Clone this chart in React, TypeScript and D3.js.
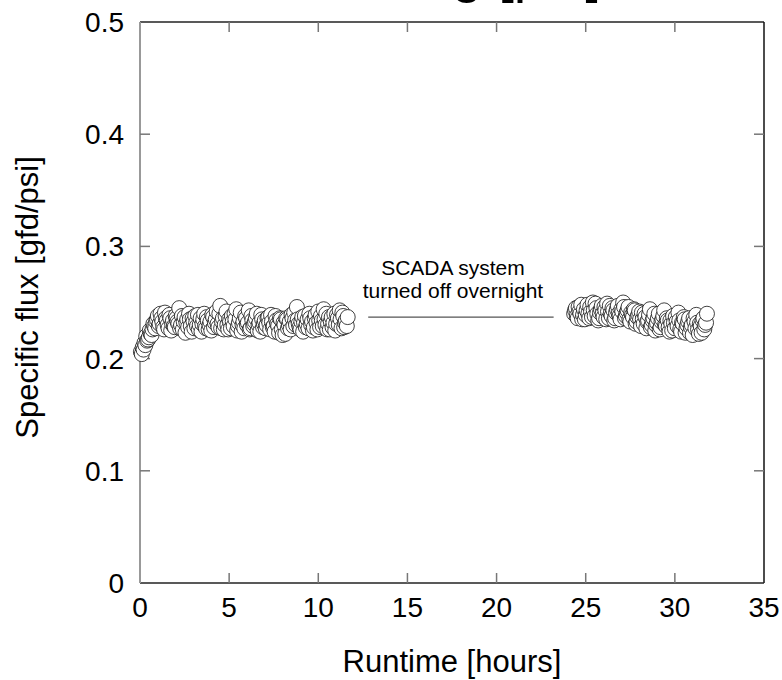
import React from "react";
import * as d3 from "d3";

const W = 782;
const H = 680;

const xTicks = [0, 5, 10, 15, 20, 25, 30, 35];
const yTicks = [0, 0.1, 0.2, 0.3, 0.4, 0.5];

const day1Time = [
  0.1, 0.2, 0.3, 0.4, 0.5, 0.6, 0.7, 0.8, 0.9, 1.0, 1.1, 1.2, 1.3, 1.4, 1.5, 1.6, 1.7, 1.8, 1.9, 2.0,
  2.1, 2.2, 2.3, 2.4, 2.5, 2.6, 2.7, 2.8, 2.9, 3.0, 3.1, 3.2, 3.3, 3.4, 3.5, 3.6, 3.7, 3.8, 3.9, 4.0,
  4.1, 4.2, 4.3, 4.4, 4.5, 4.6, 4.7, 4.8, 4.9, 5.0, 5.1, 5.2, 5.3, 5.4, 5.5, 5.6, 5.7, 5.8, 5.9, 6.0,
  6.1, 6.2, 6.3, 6.4, 6.5, 6.6, 6.7, 6.8, 6.9, 7.0, 7.1, 7.2, 7.3, 7.4, 7.5, 7.6, 7.7, 7.8, 7.9, 8.0,
  8.1, 8.2, 8.3, 8.4, 8.5, 8.6, 8.7, 8.8, 8.9, 9.0, 9.1, 9.2, 9.3, 9.4, 9.5, 9.6, 9.7, 9.8, 9.9, 10.0,
  10.1, 10.2, 10.3, 10.4, 10.5, 10.6, 10.7, 10.8, 10.9, 11.0, 11.1, 11.2, 11.3, 11.4, 11.5, 11.6,
];
const day1Flux = [
  0.204, 0.208, 0.212, 0.216, 0.219, 0.222, 0.226, 0.229, 0.233, 0.238, 0.231, 0.236, 0.228, 0.241, 0.234, 0.227, 0.236, 0.231, 0.229, 0.238,
  0.233, 0.245, 0.230, 0.226, 0.237, 0.232, 0.228, 0.235, 0.224, 0.233, 0.238, 0.229, 0.226, 0.236, 0.231, 0.240, 0.227, 0.234, 0.230, 0.225,
  0.237, 0.232, 0.242, 0.228, 0.247, 0.233, 0.226, 0.238, 0.230, 0.235, 0.227, 0.233, 0.240, 0.244, 0.229, 0.236, 0.224, 0.233, 0.238, 0.230,
  0.243, 0.227, 0.234, 0.231, 0.236, 0.225, 0.232, 0.239, 0.228, 0.234, 0.230, 0.237, 0.226, 0.233, 0.229, 0.238, 0.231, 0.223, 0.235, 0.221,
  0.230, 0.236, 0.227, 0.233, 0.239, 0.229, 0.234, 0.246, 0.231, 0.226, 0.237, 0.232, 0.228, 0.235, 0.240, 0.230, 0.225, 0.236, 0.232, 0.242,
  0.228, 0.234, 0.244, 0.230, 0.226, 0.237, 0.233, 0.228, 0.240, 0.231, 0.236, 0.243, 0.227, 0.238, 0.232, 0.229,
];
const day1TimeB = [
  0.05, 0.15, 0.25, 0.35, 0.45, 0.55, 0.65, 0.75, 0.85, 0.95, 1.05, 1.15, 1.25, 1.35, 1.45, 1.55, 1.65, 1.75, 1.85, 1.95,
  2.05, 2.15, 2.25, 2.35, 2.45, 2.55, 2.65, 2.75, 2.85, 2.95, 3.05, 3.15, 3.25, 3.35, 3.45, 3.55, 3.65, 3.75, 3.85, 3.95,
  4.05, 4.15, 4.25, 4.35, 4.45, 4.55, 4.65, 4.75, 4.85, 4.95, 5.05, 5.15, 5.25, 5.35, 5.45, 5.55, 5.65, 5.75, 5.85, 5.95,
  6.05, 6.15, 6.25, 6.35, 6.45, 6.55, 6.65, 6.75, 6.85, 6.95, 7.05, 7.15, 7.25, 7.35, 7.45, 7.55, 7.65, 7.75, 7.85, 7.95,
  8.05, 8.15, 8.25, 8.35, 8.45, 8.55, 8.65, 8.75, 8.85, 8.95, 9.05, 9.15, 9.25, 9.35, 9.45, 9.55, 9.65, 9.75, 9.85, 9.95,
  10.05, 10.15, 10.25, 10.35, 10.45, 10.55, 10.65, 10.75, 10.85, 10.95, 11.05, 11.15, 11.25, 11.35, 11.45, 11.55, 11.65,
];
const day1FluxB = [
  0.206, 0.210, 0.214, 0.220, 0.217, 0.225, 0.221, 0.231, 0.227, 0.235, 0.229, 0.240, 0.233, 0.226, 0.236, 0.230, 0.239, 0.225, 0.234, 0.228,
  0.236, 0.231, 0.227, 0.238, 0.233, 0.223, 0.235, 0.240, 0.229, 0.236, 0.227, 0.232, 0.239, 0.230, 0.224, 0.235, 0.229, 0.237, 0.226, 0.233,
  0.239, 0.228, 0.235, 0.231, 0.240, 0.227, 0.236, 0.230, 0.242, 0.226, 0.233, 0.238, 0.229, 0.235, 0.225, 0.232, 0.241, 0.230, 0.227, 0.236,
  0.232, 0.226, 0.238, 0.229, 0.233, 0.240, 0.230, 0.224, 0.235, 0.231, 0.227, 0.236, 0.232, 0.239, 0.228, 0.224, 0.234, 0.229, 0.236, 0.226,
  0.232, 0.222, 0.235, 0.230, 0.226, 0.236, 0.241, 0.230, 0.235, 0.228, 0.233, 0.224, 0.238, 0.231, 0.227, 0.236, 0.233, 0.228, 0.239, 0.226,
  0.234, 0.238, 0.229, 0.235, 0.240, 0.231, 0.226, 0.237, 0.232, 0.225, 0.239, 0.230, 0.235, 0.241, 0.228, 0.234, 0.237,
];

const day2Time = [
  24.4, 24.5, 24.6, 24.7, 24.8, 24.9, 25.0, 25.1, 25.2, 25.3, 25.4, 25.5, 25.6, 25.7, 25.8, 25.9, 26.0, 26.1, 26.2, 26.3,
  26.4, 26.5, 26.6, 26.7, 26.8, 26.9, 27.0, 27.1, 27.2, 27.3, 27.4, 27.5, 27.6, 27.7, 27.8, 27.9, 28.0, 28.1, 28.2, 28.3,
  28.4, 28.5, 28.6, 28.7, 28.8, 28.9, 29.0, 29.1, 29.2, 29.3, 29.4, 29.5, 29.6, 29.7, 29.8, 29.9, 30.0, 30.1, 30.2, 30.3,
  30.4, 30.5, 30.6, 30.7, 30.8, 30.9, 31.0, 31.1, 31.2, 31.3, 31.4, 31.5, 31.6, 31.7, 31.8,
];
const day2Flux = [
  0.243, 0.238, 0.246, 0.240, 0.235, 0.244, 0.239, 0.248, 0.236, 0.242, 0.250, 0.238, 0.245, 0.234, 0.241, 0.247, 0.237, 0.243, 0.249, 0.236,
  0.240, 0.245, 0.234, 0.241, 0.247, 0.238, 0.244, 0.250, 0.236, 0.241, 0.246, 0.233, 0.239, 0.244, 0.231, 0.237, 0.242, 0.229, 0.235, 0.240,
  0.227, 0.234, 0.244, 0.230, 0.236, 0.225, 0.232, 0.240, 0.228, 0.235, 0.243, 0.229, 0.234, 0.224, 0.231, 0.238, 0.227, 0.233, 0.241, 0.226,
  0.232, 0.237, 0.223, 0.230, 0.236, 0.228, 0.221, 0.233, 0.239, 0.226, 0.231, 0.223, 0.236, 0.230, 0.240,
];
const day2TimeB = [
  24.35, 24.45, 24.55, 24.65, 24.75, 24.85, 24.95, 25.05, 25.15, 25.25, 25.35, 25.45, 25.55, 25.65, 25.75, 25.85, 25.95, 26.05, 26.15, 26.25,
  26.35, 26.45, 26.55, 26.65, 26.75, 26.85, 26.95, 27.05, 27.15, 27.25, 27.35, 27.45, 27.55, 27.65, 27.75, 27.85, 27.95, 28.05, 28.15, 28.25,
  28.35, 28.45, 28.55, 28.65, 28.75, 28.85, 28.95, 29.05, 29.15, 29.25, 29.35, 29.45, 29.55, 29.65, 29.75, 29.85, 29.95, 30.05, 30.15, 30.25,
  30.35, 30.45, 30.55, 30.65, 30.75, 30.85, 30.95, 31.05, 31.15, 31.25, 31.35, 31.45, 31.55, 31.65, 31.75,
];
const day2FluxB = [
  0.240, 0.245, 0.236, 0.242, 0.248, 0.239, 0.235, 0.243, 0.240, 0.246, 0.237, 0.243, 0.249, 0.240, 0.236, 0.244, 0.240, 0.246, 0.235, 0.242,
  0.247, 0.238, 0.243, 0.236, 0.244, 0.240, 0.235, 0.242, 0.246, 0.238, 0.243, 0.235, 0.241, 0.237, 0.243, 0.233, 0.239, 0.235, 0.241, 0.231,
  0.237, 0.233, 0.239, 0.228, 0.234, 0.240, 0.230, 0.236, 0.226, 0.233, 0.238, 0.230, 0.236, 0.228, 0.234, 0.225, 0.232, 0.237, 0.229, 0.234,
  0.224, 0.231, 0.235, 0.227, 0.233, 0.223, 0.230, 0.236, 0.227, 0.232, 0.222, 0.229, 0.234, 0.226, 0.232,
];

const gapNote = ["SCADA system", "turned off overnight"];
const gapStart = 12.8;
const gapEnd = 23.2;
const gapLevel = 0.237;

function zip(ts: number[], vs: number[]) {
  const n = Math.min(ts.length, vs.length);
  const out: [number, number][] = [];
  for (let i = 0; i < n; i++) out.push([ts[i], vs[i]]);
  return out;
}

export default function App() {
  const left = 140;
  const right = 764;
  const top = 22;
  const bottom = 583;
  const x = d3.scaleLinear().domain([0, 35]).range([left, right]);
  const y = d3.scaleLinear().domain([0, 0.5]).range([bottom, top]);
  const font = "Liberation Sans, Arial, sans-serif";
  const pts = [
    ...zip(day1Time, day1Flux),
    ...zip(day1TimeB, day1FluxB),
    ...zip(day2Time, day2Flux),
    ...zip(day2TimeB, day2FluxB),
  ].sort((a, b) => a[0] - b[0]);
  const tickLen = 10;
  return (
    <svg
      width={W}
      height={H}
      style={{ position: "absolute", left: 0, top: 0, background: "#fff" }}
      fontFamily={font}
    >
      <rect x={0} y={0} width={W} height={H} fill="#fff" />
      {/* clipped title remnant */}
      <text x={601} y={-9} textAnchor="end" fontSize={56} fill="#000">
        Testing [psi]
      </text>
      {/* frame */}
      <line x1={left} x2={right} y1={top} y2={top} stroke="#222" strokeWidth={1.5} />
      <line x1={right} x2={right} y1={top} y2={bottom} stroke="#111" strokeWidth={1.5} />
      <line x1={left} x2={right} y1={bottom} y2={bottom} stroke="#222" strokeWidth={1.5} />
      <line x1={left} x2={left} y1={top} y2={bottom} stroke="#999" strokeWidth={2} />
      {/* ticks */}
      {xTicks.slice(1, -1).map((t) => (
        <g key={"xt" + t}>
          <line x1={x(t)} x2={x(t)} y1={bottom} y2={bottom - tickLen} stroke="#777" strokeWidth={1.5} />
          <line x1={x(t)} x2={x(t)} y1={top} y2={top + tickLen} stroke="#777" strokeWidth={1.5} />
        </g>
      ))}
      {yTicks.slice(1, -1).map((t) => (
        <g key={"yt" + t}>
          <line x1={left} x2={left + tickLen} y1={y(t)} y2={y(t)} stroke="#777" strokeWidth={1.5} />
          <line x1={right} x2={right - tickLen} y1={y(t)} y2={y(t)} stroke="#777" strokeWidth={1.5} />
        </g>
      ))}
      {xTicks.map((t) => (
        <text key={"xl" + t} x={x(t)} y={bottom + 34} textAnchor="middle" fontSize={28} fill="#000">
          {t}
        </text>
      ))}
      {yTicks.map((t) => (
        <text key={"yl" + t} x={left - 16} y={y(t) + 10} textAnchor="end" fontSize={28} fill="#000">
          {t === 0 ? "0" : d3.format(".1f")(t)}
        </text>
      ))}
      <text x={(left + right) / 2} y={672} textAnchor="middle" fontSize={31} fill="#000">
        Runtime [hours]
      </text>
      <text
        transform={`translate(38, ${(top + bottom) / 2 - 5}) rotate(-90)`}
        textAnchor="middle"
        fontSize={31}
        fill="#000"
      >
        Specific flux [gfd/psi]
      </text>
      {/* annotation */}
      <line x1={x(gapStart)} x2={x(gapEnd)} y1={y(gapLevel)} y2={y(gapLevel)} stroke="#555" strokeWidth={1.2} />
      {gapNote.map((s, i) => (
        <text
          key={s}
          x={(x(gapStart) + x(gapEnd)) / 2 - 8}
          y={y(gapLevel) - 42 + i * 23}
          textAnchor="middle"
          fontSize={21}
          fill="#000"
        >
          {s}
        </text>
      ))}
      {/* data */}
      <g>
        {pts.map(([t, v], i) => (
          <circle key={i} cx={x(t)} cy={y(v)} r={7.5} fill="#fff" stroke="#111" strokeWidth={0.8} />
        ))}
      </g>
    </svg>
  );
}
